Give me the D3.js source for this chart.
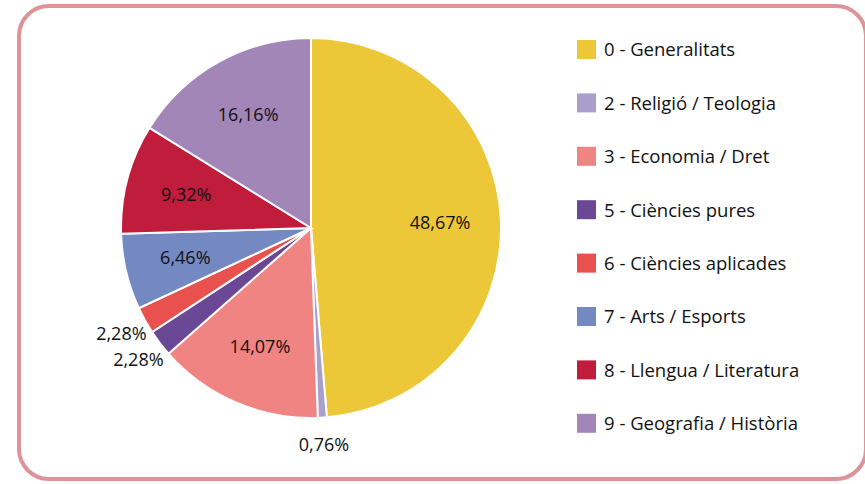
<!DOCTYPE html>
<html>
<head>
<meta charset="utf-8">
<script src="https://cdn.jsdelivr.net/npm/d3@7"></script>
<style>
  body { margin: 0; background: #fff; }
  svg text { font-family: "Open Sans", Lato, sans-serif; fill: #111; }
</style>
</head>
<body>
<div id="chart"></div>
<script>
// dades del gràfic
const categories = [
    "0 - Generalitats",
    "2 - Religió / Teologia",
    "3 - Economia / Dret",
    "5 - Ciències pures",
    "6 - Ciències aplicades",
    "7 - Arts / Esports",
    "8 - Llengua / Literatura",
    "9 - Geografia / Història"
];
const values = [48.67, 0.76, 14.07, 2.28, 2.28, 6.46, 9.32, 16.16];
const colors = ["#ecc737", "#a89fcd", "#ef8482", "#6b4895", "#e9514e", "#7489c2", "#c01c3c", "#a386b8"];

const width = 865, height = 484;
const cx = 311, cy = 228, radius = 190;

const svg = d3.select("#chart")
    .append("svg")
    .attr("width", width)
    .attr("height", height);

// marc arrodonit
svg.append("rect")
    .attr("x", 19).attr("y", 6)
    .attr("width", 847).attr("height", 473)
    .attr("rx", 30).attr("ry", 30)
    .attr("fill", "none")
    .attr("stroke", "#dc9499")
    .attr("stroke-width", 4);

const pie = d3.pie().sort(null).value(d => d);
const arcs = pie(values);

const arc = d3.arc().innerRadius(0).outerRadius(radius);
const inLabel = d3.arc().innerRadius(radius * 0.68).outerRadius(radius * 0.68);
const outLabel = d3.arc().innerRadius(radius + 27).outerRadius(radius + 27);

const g = svg.append("g").attr("transform", `translate(${cx},${cy})`);

g.selectAll("path")
    .data(arcs)
    .enter()
    .append("path")
    .attr("d", arc)
    .attr("fill", (d, i) => colors[i])
    .attr("stroke", "#fff")
    .attr("stroke-width", 2);

const fmt = v => v.toFixed(2).replace(".", ",") + "%";

g.selectAll("text.lbl")
    .data(arcs)
    .enter()
    .append("text")
    .attr("class", "lbl")
    .attr("transform", d => `translate(${(d.value < 3 ? outLabel : inLabel).centroid(d)})`)
    .attr("text-anchor", "middle")
    .attr("dy", "0.35em")
    .style("font-size", "18px")
    .text(d => fmt(d.value));

// llegenda
const legend = svg.append("g").attr("transform", "translate(577,40)");
const row = legend.selectAll("g")
    .data(categories)
    .enter()
    .append("g")
    .attr("transform", (d, i) => `translate(0,${i * 53.4})`);

row.append("rect")
    .attr("width", 19).attr("height", 19)
    .attr("fill", (d, i) => colors[i]);

row.append("text")
    .attr("x", 27).attr("y", 10)
    .attr("dy", "0.35em")
    .style("font-size", "18.5px")
    .text(d => d);
</script>
</body>
</html>
